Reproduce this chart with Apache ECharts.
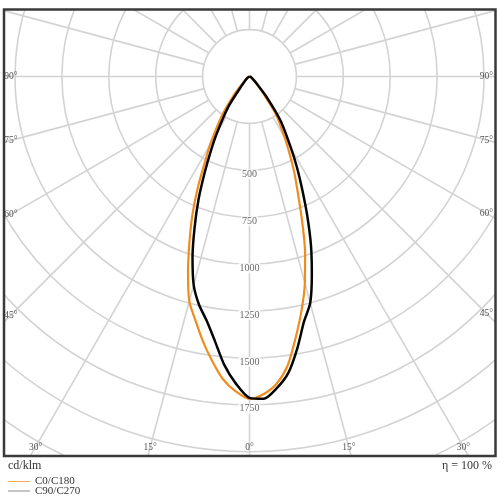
<!DOCTYPE html>
<html><head><meta charset="utf-8">
<script src="https://cdn.jsdelivr.net/npm/echarts@6/dist/echarts.min.js"></script>
<style>html,body{margin:0;padding:0;background:#fff}#c{width:500px;height:500px}</style>
</head><body><div id="c"></div>
<script>
// gamma angles (deg from nadir) and intensities (cd/klm)
const angles = [0,2.5,5,7.5,10,12.5,15,17.5,20,22.5,25,27.5,30,35,40,45,50,60,75,90];
const c0   = [1719,1695,1645,1555,1415,1280,1140,985,820,675,565,460,375,245,105,48,28,12,4,0];
const c180 = [1719,1680,1620,1528,1432,1332,1240,1090,935,793,650,515,420,260,128,50,28,12,4,0];
const c90  = [1713,1720,1668,1592,1470,1340,1250,1105,958,805,665,550,445,291,140,55,30,12,4,0];
const c270 = [1713,1640,1543,1420,1320,1245,1150,1010,855,710,565,445,345,196,70,35,22,10,3,0];
const radiusTicks = [500,750,1000,1250,1500,1750];
const angleTicks = [-90,-75,-60,-45,-30,-15,0,15,30,45,60,75,90];
const seriesNames = ['C0/C180','C90/C270'];
const unitText = 'cd/klm';
const effText = 'η = 100 %';

// layout
const CX = 249.5, CY = 76.5, R0 = 46.9, STEP = 250, RMAX = 2500;
const ROUT = R0 * RMAX / STEP;
const FL = 4, FT = 9.5, FR = 495.5, FB = 456;
const LX = 11, RX = 486.5, BY = 447;
const GRID = '#d3d3d3';

function curve(right, left){
  const pts = [];
  for (let i = angles.length - 1; i >= 0; i--) pts.push([left[i], -angles[i]]);
  for (let i = 1; i < angles.length; i++) pts.push([right[i], angles[i]]);
  return pts;
}

const angleLabels = angleTicks.map(a => {
  const rad = a * Math.PI / 180, dx = Math.sin(rad), dy = Math.cos(rad);
  const ts = [];
  if (dx < -1e-9) ts.push((LX - CX) / dx);
  if (dx > 1e-9) ts.push((RX - CX) / dx);
  if (dy > 1e-9) ts.push((BY - CY) / dy);
  const t = Math.min.apply(null, ts);
  return {type:'text', z:60, silent:true, x: CX + t*dx, y: CY + t*dy,
    style:{text: Math.abs(a) + '°', fill:'#555', font:'9.5px "Liberation Serif"', align:'center', verticalAlign:'middle'}};
});

const hidden = {axisLine:{show:false}, axisTick:{show:false}, axisLabel:{show:false}};
const legendText = {fontFamily:'Liberation Serif', fontSize:11, color:'#333'};

const chart = echarts.init(document.getElementById('c'), null, {renderer:'canvas'});
chart.setOption({
  animation:false,
  backgroundColor:'#fff',
  polar:[{center:[CX, CY], radius:[R0, ROUT]}, {center:[CX, CY], radius:[0, ROUT]}],
  angleAxis:[
    Object.assign({polarIndex:0, type:'value', min:-180, max:180, interval:15, startAngle:90, clockwise:false,
      splitLine:{show:true, lineStyle:{color:GRID, width:1.6}}}, hidden),
    Object.assign({polarIndex:1, type:'value', min:-180, max:180, interval:15, startAngle:90, clockwise:false,
      splitLine:{show:false}}, hidden)
  ],
  radiusAxis:[
    Object.assign({polarIndex:0, type:'value', min:STEP, max:RMAX, interval:STEP,
      splitLine:{show:true, lineStyle:{color:GRID, width:1.6}}}, hidden),
    Object.assign({polarIndex:1, type:'value', min:0, max:RMAX, interval:STEP,
      splitLine:{show:false}}, hidden)
  ],
  legend:[
    {orient:'vertical', left:8, top:476, padding:0, icon:'rect', itemWidth:22, itemHeight:1, z:100,
     selectedMode:false, textStyle:legendText,
     data:[{name:seriesNames[0], itemStyle:{color:'#f5a855', borderWidth:0}}]},
    {orient:'vertical', left:8, top:485.5, padding:0, icon:'rect', itemWidth:22, itemHeight:1, z:100,
     selectedMode:false, textStyle:legendText,
     data:[{name:seriesNames[1], itemStyle:{color:'#8a8a8a', borderWidth:0}}]}
  ],
  series:[
    {type:'scatter', coordinateSystem:'polar', polarIndex:1, z:3, silent:true, symbolSize:0.1,
     itemStyle:{color:'rgba(0,0,0,0)'},
     data: radiusTicks.map(v => [v, 0]),
     label:{show:true, position:'inside', offset:[0,4], formatter: p => String(p.value[0]),
       fontFamily:'Liberation Serif', fontSize:10, color:'#444', backgroundColor:'#fff', padding:[0,1]}},
    {name:seriesNames[0], type:'line', coordinateSystem:'polar', polarIndex:1, z:5, clip:false, symbol:'none', smooth:0.25,
     lineStyle:{color:'#f08c1e', width:2.2}, itemStyle:{color:'#f08c1e'}, data: curve(c0, c180)},
    {name:seriesNames[1], type:'line', coordinateSystem:'polar', polarIndex:1, z:6, clip:false, symbol:'none', smooth:0.25,
     lineStyle:{color:'#050505', width:2.5}, itemStyle:{color:'#050505'}, data: curve(c90, c270)}
  ],
  graphic:[
    {type:'rect', z:50, silent:true, shape:{x:0, y:0, width:500, height:FT}, style:{fill:'#fff'}},
    {type:'rect', z:50, silent:true, shape:{x:0, y:FB, width:500, height:500-FB}, style:{fill:'#fff'}},
    {type:'rect', z:50, silent:true, shape:{x:0, y:0, width:FL, height:500}, style:{fill:'#fff'}},
    {type:'rect', z:50, silent:true, shape:{x:FR, y:0, width:500-FR, height:500}, style:{fill:'#fff'}},
    {type:'rect', z:55, silent:true, shape:{x:FL, y:FT, width:FR-FL, height:FB-FT}, style:{fill:null, stroke:'#3a3a3a', lineWidth:2.5}},
    {type:'text', z:60, silent:true, x:8, y:466, style:{text:unitText, fill:'#333', font:'12px "Liberation Serif"', align:'left', verticalAlign:'middle'}},
    {type:'text', z:60, silent:true, x:492, y:466, style:{text:effText, fill:'#333', font:'12px "Liberation Serif"', align:'right', verticalAlign:'middle'}}
  ].concat(angleLabels)
});
</script></body></html>
